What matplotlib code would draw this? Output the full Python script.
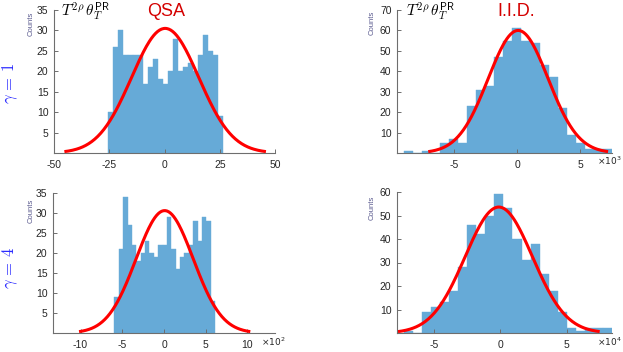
import matplotlib.pyplot as plt
import numpy as np

W, H = 623, 352

# histogram counts (23 bins each)
qsa_g1_counts = [10, 26, 30, 24, 24, 24, 24, 17, 21, 23, 18, 17, 20, 28, 20, 21,
                 22, 20, 24, 29, 25, 24, 9]
qsa_g1_bins = (-25.4, 2.252)        # first edge, bin width
qsa_g1_fit = (0.3, 15.2, 30.5)      # mean, std, peak height

iid_g1_counts = [1, 0, 1, 0, 5, 7, 5, 23, 31, 33, 47, 55, 61, 55, 54, 43, 37,
                 22, 9, 5, 2, 2, 2]
iid_g1_bins = (-8.97, 0.716)
iid_g1_fit = (0.08, 2.37, 60.0)

qsa_g4_counts = [9, 21, 34, 27, 22, 18, 20, 23, 20, 19, 22, 22, 29, 21, 16, 19,
                 20, 22, 28, 23, 29, 28, 8]
qsa_g4_bins = (-5.94, 0.5245)
qsa_g4_fit = (0.08, 3.42, 30.6)

iid_g4_counts = [1, 0, 9, 11, 13, 18, 28, 46, 42, 50, 59, 53, 40, 31, 38, 25,
                 18, 9, 2, 1, 2, 2, 2]
iid_g4_bins = (-7.24, 0.681)
iid_g4_fit = (-0.1, 2.53, 53.6)

qsa_g1_xticks = [-50, -25, 0, 25, 50]
iid_g1_xticks = [-5, 0, 5]
qsa_g4_xticks = [-10, -5, 0, 5, 10]
iid_g4_xticks = [-5, 0, 5]

BAR = '#66aad7'
AX = '#6e6e6e'


def rect(left, top, right, bottom):
    return [left / W, 1 - bottom / H, (right - left) / W, (bottom - top) / H]


def fpos(x, y):
    return x / W, 1 - y / H


def panel(fig, box, counts, bins, fit, xlim, ylim, xticks, yticks):
    ax = fig.add_axes(box)
    start, width = bins
    left = start + width * np.arange(len(counts))
    ax.bar(left, counts, width=width, align='edge', color=BAR,
           edgecolor=BAR, linewidth=0.3)

    mu, sd, peak = fit
    x = np.linspace(mu - 3 * sd, mu + 3 * sd, 200)
    ax.plot(x, peak * np.exp(-0.5 * ((x - mu) / sd) ** 2), color='red', lw=2.2,
            solid_capstyle='butt')

    ax.set_xlim(*xlim)
    ax.set_ylim(*ylim)
    ax.set_xticks(xticks)
    ax.set_yticks(yticks)
    for s in ['top', 'right']:
        ax.spines[s].set_visible(False)
    for s in ['left', 'bottom']:
        ax.spines[s].set_color(AX)
        ax.spines[s].set_linewidth(0.8)
    ax.tick_params(direction='in', length=3, width=0.7, color=AX,
                   labelsize=7.5, labelcolor='#262626')
    ax.tick_params(axis='x', pad=5)
    ax.tick_params(axis='y', pad=4)
    return ax


def main():
    plt.rcParams['font.family'] = ['Liberation Sans', 'DejaVu Sans']
    plt.rcParams['mathtext.fontset'] = 'cm'
    plt.rcParams['axes.unicode_minus'] = False

    fig = plt.figure(figsize=(W / 100, H / 100), dpi=100)

    panel(fig, rect(54, 10, 275, 153), qsa_g1_counts, qsa_g1_bins, qsa_g1_fit,
          (-50, 50), (0, 35), qsa_g1_xticks, range(5, 36, 5))
    panel(fig, rect(397, 10, 612, 153), iid_g1_counts, iid_g1_bins, iid_g1_fit,
          (-9.5, 7.5), (0, 70), iid_g1_xticks, range(10, 71, 10))
    panel(fig, rect(53, 193, 275, 333), qsa_g4_counts, qsa_g4_bins, qsa_g4_fit,
          (-13.3, 13.3), (0, 35), qsa_g4_xticks, range(5, 36, 5))
    panel(fig, rect(397, 192, 612, 333), iid_g4_counts, iid_g4_bins, iid_g4_fit,
          (-7.76, 8.42), (0, 60), iid_g4_xticks, range(10, 61, 10))

    # titles
    title = r'$T^{2\rho}\,\theta_T^{\mathsf{PR}}$'
    fig.text(*fpos(61, 17), title, fontsize=11, ha='left', va='baseline')
    fig.text(*fpos(406, 17), title, fontsize=11, ha='left', va='baseline')
    fig.text(*fpos(166, 12), 'QSA', fontsize=13, color='#d40000',
             ha='center', va='center')
    fig.text(*fpos(516, 12), 'I.I.D.', fontsize=13, color='#d40000',
             ha='center', va='center')

    # row labels
    fig.text(*fpos(10, 83), r'$\gamma\,=\,1$', fontsize=12, color='#2b2bff',
             rotation=90, ha='center', va='center')
    fig.text(*fpos(10, 268), r'$\gamma\,=\,4$', fontsize=12, color='#2b2bff',
             rotation=90, ha='center', va='center')

    # y labels
    for x, y in [(31, 24), (372, 23), (31, 211), (372, 208)]:
        fig.text(*fpos(x, y), 'Counts', fontsize=5.5, color='#5b5b8f',
                 rotation=90, ha='center', va='center')

    # axis multipliers
    for x, y, e in [(597, 165, 3), (261, 346, 2), (597, 346, 4)]:
        fig.text(*fpos(x, y), r'$\times10^{%d}$' % e, fontsize=6.5,
                 color='#262626', ha='left', va='baseline',
                 math_fontfamily='dejavusans')

    fig.savefig('out.png', dpi=100)


if __name__ == '__main__':
    main()
